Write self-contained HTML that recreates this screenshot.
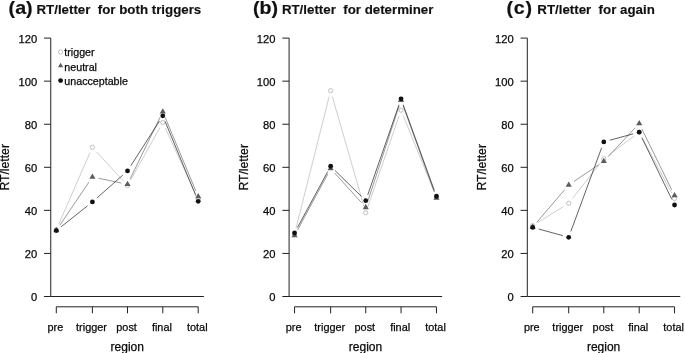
<!DOCTYPE html>
<html><head><meta charset="utf-8"><title>RT/letter</title>
<style>html,body{margin:0;padding:0;background:#fff}svg{display:block}</style></head>
<body>
<svg width="685" height="353" viewBox="0 0 685 353" font-family="Liberation Sans, Arial, sans-serif">
<rect width="685" height="353" fill="#fff"/>
<text transform="translate(8.6,14.4) scale(1.09,1)" letter-spacing="0" font-size="18" font-weight="bold" fill="#111" stroke="#111" stroke-width="0.2">(a)</text>
<text x="36.5" y="14" font-size="13.3" font-weight="bold" fill="#111" stroke="#111" stroke-width="0.15">RT/letter  for both triggers</text>
<g stroke="#222" stroke-width="1.0" fill="none">
<line x1="50.75" y1="38.10" x2="50.75" y2="296.50"/>
<line x1="44.0" y1="296.50" x2="50.75" y2="296.50"/>
<line x1="44.0" y1="253.43" x2="50.75" y2="253.43"/>
<line x1="44.0" y1="210.37" x2="50.75" y2="210.37"/>
<line x1="44.0" y1="167.30" x2="50.75" y2="167.30"/>
<line x1="44.0" y1="124.24" x2="50.75" y2="124.24"/>
<line x1="44.0" y1="81.17" x2="50.75" y2="81.17"/>
<line x1="44.0" y1="38.10" x2="50.75" y2="38.10"/>
<line x1="50.75" y1="296.50" x2="203.89999999999998" y2="296.50"/>
<line x1="56.3" y1="306.8" x2="198.2" y2="306.8"/>
<line x1="56.3" y1="306.8" x2="56.3" y2="313.3"/>
<line x1="92.4" y1="306.8" x2="92.4" y2="313.3"/>
<line x1="127.5" y1="306.8" x2="127.5" y2="313.3"/>
<line x1="162.8" y1="306.8" x2="162.8" y2="313.3"/>
<line x1="198.2" y1="306.8" x2="198.2" y2="313.3"/>
</g>
<text x="37.15" y="301.10" font-size="11.2" text-anchor="end" fill="#0a0a0a" stroke="#0a0a0a" stroke-width="0.25">0</text>
<text x="37.15" y="258.03" font-size="11.2" text-anchor="end" fill="#0a0a0a" stroke="#0a0a0a" stroke-width="0.25">20</text>
<text x="37.15" y="214.97" font-size="11.2" text-anchor="end" fill="#0a0a0a" stroke="#0a0a0a" stroke-width="0.25">40</text>
<text x="37.15" y="171.90" font-size="11.2" text-anchor="end" fill="#0a0a0a" stroke="#0a0a0a" stroke-width="0.25">60</text>
<text x="37.15" y="128.84" font-size="11.2" text-anchor="end" fill="#0a0a0a" stroke="#0a0a0a" stroke-width="0.25">80</text>
<text x="37.15" y="85.77" font-size="11.2" text-anchor="end" fill="#0a0a0a" stroke="#0a0a0a" stroke-width="0.25">100</text>
<text x="37.15" y="42.70" font-size="11.2" text-anchor="end" fill="#0a0a0a" stroke="#0a0a0a" stroke-width="0.25">120</text>
<text x="55.4" y="331" font-size="10.899999999999999" text-anchor="middle" fill="#0a0a0a" stroke="#0a0a0a" stroke-width="0.25">pre</text>
<text x="91.5" y="331" font-size="10.899999999999999" text-anchor="middle" fill="#0a0a0a" stroke="#0a0a0a" stroke-width="0.25">trigger</text>
<text x="126.6" y="331" font-size="10.899999999999999" text-anchor="middle" fill="#0a0a0a" stroke="#0a0a0a" stroke-width="0.25">post</text>
<text x="161.9" y="331" font-size="10.899999999999999" text-anchor="middle" fill="#0a0a0a" stroke="#0a0a0a" stroke-width="0.25">final</text>
<text x="197.29999999999998" y="331" font-size="10.899999999999999" text-anchor="middle" fill="#0a0a0a" stroke="#0a0a0a" stroke-width="0.25">total</text>
<text x="127.3" y="351" font-size="12.0" text-anchor="middle" fill="#0a0a0a" stroke="#0a0a0a" stroke-width="0.25">region</text>
<text transform="translate(9.15,167.30) rotate(-90) scale(1,1.08)" font-size="12.2" text-anchor="middle" fill="#0a0a0a" stroke="#0a0a0a" stroke-width="0.25">RT/letter</text>
<line x1="58.79" y1="224.07" x2="89.91" y2="152.96" stroke="#b4b4b4" stroke-width="0.65"/><line x1="96.59" y1="151.85" x2="123.31" y2="181.03" stroke="#b4b4b4" stroke-width="0.65"/><line x1="130.53" y1="180.19" x2="159.77" y2="127.92" stroke="#b4b4b4" stroke-width="0.65"/><line x1="165.39" y1="128.15" x2="195.61" y2="193.97" stroke="#b4b4b4" stroke-width="0.65"/>
<circle cx="56.30" cy="229.75" r="2.1" fill="#fff" stroke="#a8a8a8" stroke-width="0.7"/>
<circle cx="92.40" cy="147.28" r="2.1" fill="#fff" stroke="#a8a8a8" stroke-width="0.7"/>
<circle cx="127.50" cy="185.61" r="2.1" fill="#fff" stroke="#a8a8a8" stroke-width="0.7"/>
<circle cx="162.80" cy="122.51" r="2.1" fill="#fff" stroke="#a8a8a8" stroke-width="0.7"/>
<circle cx="198.20" cy="199.60" r="2.1" fill="#fff" stroke="#a8a8a8" stroke-width="0.7"/>
<line x1="59.77" y1="225.26" x2="88.93" y2="182.13" stroke="#6e6e6e" stroke-width="0.7"/><line x1="98.47" y1="178.26" x2="121.43" y2="183.05" stroke="#6e6e6e" stroke-width="0.7"/><line x1="130.21" y1="178.74" x2="160.09" y2="117.32" stroke="#6e6e6e" stroke-width="0.7"/><line x1="165.19" y1="117.47" x2="195.81" y2="190.87" stroke="#6e6e6e" stroke-width="0.7"/>
<polygon points="56.30,226.84 53.23,232.17 59.37,232.17" fill="#5c5c5c"/>
<polygon points="92.40,173.44 89.33,178.77 95.47,178.77" fill="#5c5c5c"/>
<polygon points="127.50,180.76 124.43,186.09 130.57,186.09" fill="#5c5c5c"/>
<polygon points="162.80,108.20 159.73,113.52 165.87,113.52" fill="#5c5c5c"/>
<polygon points="198.20,193.04 195.13,198.36 201.27,198.36" fill="#5c5c5c"/>
<line x1="61.16" y1="226.76" x2="87.54" y2="205.82" stroke="#262626" stroke-width="0.72"/><line x1="97.05" y1="197.87" x2="122.85" y2="175.07" stroke="#262626" stroke-width="0.72"/><line x1="130.84" y1="165.74" x2="159.46" y2="121.06" stroke="#262626" stroke-width="0.72"/><line x1="165.17" y1="121.57" x2="195.83" y2="195.60" stroke="#262626" stroke-width="0.72"/>
<circle cx="56.30" cy="230.61" r="2.4" fill="#111"/>
<circle cx="92.40" cy="201.97" r="2.4" fill="#111"/>
<circle cx="127.50" cy="170.96" r="2.4" fill="#111"/>
<circle cx="162.80" cy="115.84" r="2.4" fill="#111"/>
<circle cx="198.20" cy="201.32" r="2.4" fill="#111"/>
<circle cx="60.60" cy="52.00" r="2.1" fill="#fff" stroke="#a8a8a8" stroke-width="0.7"/>
<polygon points="60.60,62.70 57.92,67.35 63.28,67.35" fill="#5c5c5c"/>
<circle cx="60.60" cy="80.60" r="2.4" fill="#111"/>
<text x="64.3" y="56.4" font-size="10.7" fill="#0a0a0a" stroke="#0a0a0a" stroke-width="0.25">trigger</text>
<text x="64.3" y="70.6" font-size="10.7" fill="#0a0a0a" stroke="#0a0a0a" stroke-width="0.25">neutral</text>
<text x="64.3" y="84.8" font-size="10.7" fill="#0a0a0a" stroke="#0a0a0a" stroke-width="0.25">unacceptable</text>
<text transform="translate(252.9,13.8) scale(1.09,1)" letter-spacing="0" font-size="18" font-weight="bold" fill="#111" stroke="#111" stroke-width="0.2">(b)</text>
<text x="281.9" y="14" font-size="13.3" font-weight="bold" fill="#111" stroke="#111" stroke-width="0.15">RT/letter  for determiner</text>
<g stroke="#222" stroke-width="1.0" fill="none">
<line x1="289.1" y1="38.10" x2="289.1" y2="296.50"/>
<line x1="282.35" y1="296.50" x2="289.1" y2="296.50"/>
<line x1="282.35" y1="253.43" x2="289.1" y2="253.43"/>
<line x1="282.35" y1="210.37" x2="289.1" y2="210.37"/>
<line x1="282.35" y1="167.30" x2="289.1" y2="167.30"/>
<line x1="282.35" y1="124.24" x2="289.1" y2="124.24"/>
<line x1="282.35" y1="81.17" x2="289.1" y2="81.17"/>
<line x1="282.35" y1="38.10" x2="289.1" y2="38.10"/>
<line x1="289.1" y1="296.50" x2="442.15" y2="296.50"/>
<line x1="294.55" y1="306.8" x2="436.45" y2="306.8"/>
<line x1="294.55" y1="306.8" x2="294.55" y2="313.3"/>
<line x1="330.65" y1="306.8" x2="330.65" y2="313.3"/>
<line x1="365.75" y1="306.8" x2="365.75" y2="313.3"/>
<line x1="401.05" y1="306.8" x2="401.05" y2="313.3"/>
<line x1="436.45" y1="306.8" x2="436.45" y2="313.3"/>
</g>
<text x="275.5" y="301.10" font-size="11.2" text-anchor="end" fill="#0a0a0a" stroke="#0a0a0a" stroke-width="0.25">0</text>
<text x="275.5" y="258.03" font-size="11.2" text-anchor="end" fill="#0a0a0a" stroke="#0a0a0a" stroke-width="0.25">20</text>
<text x="275.5" y="214.97" font-size="11.2" text-anchor="end" fill="#0a0a0a" stroke="#0a0a0a" stroke-width="0.25">40</text>
<text x="275.5" y="171.90" font-size="11.2" text-anchor="end" fill="#0a0a0a" stroke="#0a0a0a" stroke-width="0.25">60</text>
<text x="275.5" y="128.84" font-size="11.2" text-anchor="end" fill="#0a0a0a" stroke="#0a0a0a" stroke-width="0.25">80</text>
<text x="275.5" y="85.77" font-size="11.2" text-anchor="end" fill="#0a0a0a" stroke="#0a0a0a" stroke-width="0.25">100</text>
<text x="275.5" y="42.70" font-size="11.2" text-anchor="end" fill="#0a0a0a" stroke="#0a0a0a" stroke-width="0.25">120</text>
<text x="293.65000000000003" y="331" font-size="10.899999999999999" text-anchor="middle" fill="#0a0a0a" stroke="#0a0a0a" stroke-width="0.25">pre</text>
<text x="329.75" y="331" font-size="10.899999999999999" text-anchor="middle" fill="#0a0a0a" stroke="#0a0a0a" stroke-width="0.25">trigger</text>
<text x="364.85" y="331" font-size="10.899999999999999" text-anchor="middle" fill="#0a0a0a" stroke="#0a0a0a" stroke-width="0.25">post</text>
<text x="400.15000000000003" y="331" font-size="10.899999999999999" text-anchor="middle" fill="#0a0a0a" stroke="#0a0a0a" stroke-width="0.25">final</text>
<text x="435.55" y="331" font-size="10.899999999999999" text-anchor="middle" fill="#0a0a0a" stroke="#0a0a0a" stroke-width="0.25">total</text>
<text x="365.55" y="351" font-size="12.0" text-anchor="middle" fill="#0a0a0a" stroke="#0a0a0a" stroke-width="0.25">region</text>
<text transform="translate(247.50,167.30) rotate(-90) scale(1,1.08)" font-size="12.2" text-anchor="middle" fill="#0a0a0a" stroke="#0a0a0a" stroke-width="0.25">RT/letter</text>
<line x1="296.06" y1="228.04" x2="329.14" y2="96.66" stroke="#b4b4b4" stroke-width="0.65"/><line x1="332.36" y1="96.60" x2="364.04" y2="206.78" stroke="#b4b4b4" stroke-width="0.65"/><line x1="367.77" y1="206.87" x2="399.03" y2="116.10" stroke="#b4b4b4" stroke-width="0.65"/><line x1="403.38" y1="115.98" x2="434.12" y2="191.70" stroke="#b4b4b4" stroke-width="0.65"/>
<circle cx="294.55" cy="234.05" r="2.1" fill="#fff" stroke="#a8a8a8" stroke-width="0.7"/>
<circle cx="330.65" cy="90.64" r="2.1" fill="#fff" stroke="#a8a8a8" stroke-width="0.7"/>
<circle cx="365.75" cy="212.74" r="2.1" fill="#fff" stroke="#a8a8a8" stroke-width="0.7"/>
<circle cx="401.05" cy="110.24" r="2.1" fill="#fff" stroke="#a8a8a8" stroke-width="0.7"/>
<circle cx="436.45" cy="197.45" r="2.1" fill="#fff" stroke="#a8a8a8" stroke-width="0.7"/>
<line x1="297.49" y1="230.10" x2="327.71" y2="174.05" stroke="#6e6e6e" stroke-width="0.7"/><line x1="334.81" y1="173.19" x2="361.59" y2="202.76" stroke="#6e6e6e" stroke-width="0.7"/><line x1="367.69" y1="201.46" x2="399.11" y2="106.01" stroke="#6e6e6e" stroke-width="0.7"/><line x1="403.16" y1="105.95" x2="434.34" y2="192.05" stroke="#6e6e6e" stroke-width="0.7"/>
<polygon points="294.55,232.01 291.48,237.34 297.62,237.34" fill="#5c5c5c"/>
<polygon points="330.65,165.04 327.58,170.37 333.72,170.37" fill="#5c5c5c"/>
<polygon points="365.75,203.80 362.68,209.13 368.82,209.13" fill="#5c5c5c"/>
<polygon points="401.05,96.57 397.98,101.89 404.12,101.89" fill="#5c5c5c"/>
<polygon points="436.45,194.33 433.38,199.65 439.52,199.65" fill="#5c5c5c"/>
<line x1="297.50" y1="227.52" x2="327.70" y2="171.68" stroke="#262626" stroke-width="0.72"/><line x1="335.07" y1="170.57" x2="361.33" y2="196.34" stroke="#262626" stroke-width="0.72"/><line x1="367.78" y1="194.82" x2="399.02" y2="104.69" stroke="#262626" stroke-width="0.72"/><line x1="403.17" y1="104.65" x2="434.33" y2="190.44" stroke="#262626" stroke-width="0.72"/>
<circle cx="294.55" cy="232.98" r="2.4" fill="#111"/>
<circle cx="330.65" cy="166.23" r="2.4" fill="#111"/>
<circle cx="365.75" cy="200.68" r="2.4" fill="#111"/>
<circle cx="401.05" cy="98.83" r="2.4" fill="#111"/>
<circle cx="436.45" cy="196.26" r="2.4" fill="#111"/>
<text transform="translate(506.5,14.2) scale(1.09,1)" letter-spacing="0.7" font-size="18" font-weight="bold" fill="#111" stroke="#111" stroke-width="0.2">(c)</text>
<text x="537.3000000000001" y="14" font-size="13.3" font-weight="bold" fill="#111" stroke="#111" stroke-width="0.15">RT/letter  for again</text>
<g stroke="#222" stroke-width="1.0" fill="none">
<line x1="527.3" y1="38.10" x2="527.3" y2="296.50"/>
<line x1="520.55" y1="296.50" x2="527.3" y2="296.50"/>
<line x1="520.55" y1="253.43" x2="527.3" y2="253.43"/>
<line x1="520.55" y1="210.37" x2="527.3" y2="210.37"/>
<line x1="520.55" y1="167.30" x2="527.3" y2="167.30"/>
<line x1="520.55" y1="124.24" x2="527.3" y2="124.24"/>
<line x1="520.55" y1="81.17" x2="527.3" y2="81.17"/>
<line x1="520.55" y1="38.10" x2="527.3" y2="38.10"/>
<line x1="527.3" y1="296.50" x2="680.25" y2="296.50"/>
<line x1="532.7" y1="306.8" x2="674.55" y2="306.8"/>
<line x1="532.7" y1="306.8" x2="532.7" y2="313.3"/>
<line x1="568.7" y1="306.8" x2="568.7" y2="313.3"/>
<line x1="603.8" y1="306.8" x2="603.8" y2="313.3"/>
<line x1="639.2" y1="306.8" x2="639.2" y2="313.3"/>
<line x1="674.55" y1="306.8" x2="674.55" y2="313.3"/>
</g>
<text x="513.6999999999999" y="301.10" font-size="11.2" text-anchor="end" fill="#0a0a0a" stroke="#0a0a0a" stroke-width="0.25">0</text>
<text x="513.6999999999999" y="258.03" font-size="11.2" text-anchor="end" fill="#0a0a0a" stroke="#0a0a0a" stroke-width="0.25">20</text>
<text x="513.6999999999999" y="214.97" font-size="11.2" text-anchor="end" fill="#0a0a0a" stroke="#0a0a0a" stroke-width="0.25">40</text>
<text x="513.6999999999999" y="171.90" font-size="11.2" text-anchor="end" fill="#0a0a0a" stroke="#0a0a0a" stroke-width="0.25">60</text>
<text x="513.6999999999999" y="128.84" font-size="11.2" text-anchor="end" fill="#0a0a0a" stroke="#0a0a0a" stroke-width="0.25">80</text>
<text x="513.6999999999999" y="85.77" font-size="11.2" text-anchor="end" fill="#0a0a0a" stroke="#0a0a0a" stroke-width="0.25">100</text>
<text x="513.6999999999999" y="42.70" font-size="11.2" text-anchor="end" fill="#0a0a0a" stroke="#0a0a0a" stroke-width="0.25">120</text>
<text x="531.8000000000001" y="331" font-size="10.899999999999999" text-anchor="middle" fill="#0a0a0a" stroke="#0a0a0a" stroke-width="0.25">pre</text>
<text x="567.8000000000001" y="331" font-size="10.899999999999999" text-anchor="middle" fill="#0a0a0a" stroke="#0a0a0a" stroke-width="0.25">trigger</text>
<text x="602.9" y="331" font-size="10.899999999999999" text-anchor="middle" fill="#0a0a0a" stroke="#0a0a0a" stroke-width="0.25">post</text>
<text x="638.3000000000001" y="331" font-size="10.899999999999999" text-anchor="middle" fill="#0a0a0a" stroke="#0a0a0a" stroke-width="0.25">final</text>
<text x="673.65" y="331" font-size="10.899999999999999" text-anchor="middle" fill="#0a0a0a" stroke="#0a0a0a" stroke-width="0.25">total</text>
<text x="603.5999999999999" y="351" font-size="12.0" text-anchor="middle" fill="#0a0a0a" stroke="#0a0a0a" stroke-width="0.25">region</text>
<text transform="translate(485.70,167.30) rotate(-90) scale(1,1.08)" font-size="12.2" text-anchor="middle" fill="#0a0a0a" stroke="#0a0a0a" stroke-width="0.25">RT/letter</text>
<line x1="537.96" y1="222.38" x2="563.44" y2="206.54" stroke="#b4b4b4" stroke-width="0.65"/><line x1="572.54" y1="198.39" x2="599.96" y2="163.56" stroke="#b4b4b4" stroke-width="0.65"/><line x1="608.76" y1="154.97" x2="634.24" y2="135.92" stroke="#b4b4b4" stroke-width="0.65"/><line x1="642.12" y1="137.67" x2="671.63" y2="193.05" stroke="#b4b4b4" stroke-width="0.65"/>
<circle cx="532.70" cy="225.66" r="2.1" fill="#fff" stroke="#a8a8a8" stroke-width="0.7"/>
<circle cx="568.70" cy="203.26" r="2.1" fill="#fff" stroke="#a8a8a8" stroke-width="0.7"/>
<circle cx="603.80" cy="158.69" r="2.1" fill="#fff" stroke="#a8a8a8" stroke-width="0.7"/>
<circle cx="639.20" cy="132.20" r="2.1" fill="#fff" stroke="#a8a8a8" stroke-width="0.7"/>
<circle cx="674.55" cy="198.52" r="2.1" fill="#fff" stroke="#a8a8a8" stroke-width="0.7"/>
<line x1="536.72" y1="222.45" x2="564.68" y2="189.68" stroke="#6e6e6e" stroke-width="0.7"/><line x1="573.84" y1="181.49" x2="598.66" y2="164.74" stroke="#6e6e6e" stroke-width="0.7"/><line x1="608.05" y1="156.75" x2="634.95" y2="128.11" stroke="#6e6e6e" stroke-width="0.7"/><line x1="641.93" y1="129.15" x2="671.82" y2="189.95" stroke="#6e6e6e" stroke-width="0.7"/>
<polygon points="532.70,223.61 529.63,228.94 535.77,228.94" fill="#5c5c5c"/>
<polygon points="568.70,181.41 565.63,186.73 571.77,186.73" fill="#5c5c5c"/>
<polygon points="603.80,157.72 600.73,163.05 606.87,163.05" fill="#5c5c5c"/>
<polygon points="639.20,120.04 636.13,125.37 642.27,125.37" fill="#5c5c5c"/>
<polygon points="674.55,191.96 671.48,197.29 677.62,197.29" fill="#5c5c5c"/>
<line x1="538.68" y1="229.02" x2="562.72" y2="235.64" stroke="#262626" stroke-width="0.72"/><line x1="570.84" y1="231.47" x2="601.66" y2="147.71" stroke="#262626" stroke-width="0.72"/><line x1="609.78" y1="140.26" x2="633.22" y2="133.84" stroke="#262626" stroke-width="0.72"/><line x1="641.91" y1="137.78" x2="671.84" y2="199.41" stroke="#262626" stroke-width="0.72"/>
<circle cx="532.70" cy="227.38" r="2.4" fill="#111"/>
<circle cx="568.70" cy="237.28" r="2.4" fill="#111"/>
<circle cx="603.80" cy="141.89" r="2.4" fill="#111"/>
<circle cx="639.20" cy="132.20" r="2.4" fill="#111"/>
<circle cx="674.55" cy="204.98" r="2.4" fill="#111"/>
</svg>
</body></html>
